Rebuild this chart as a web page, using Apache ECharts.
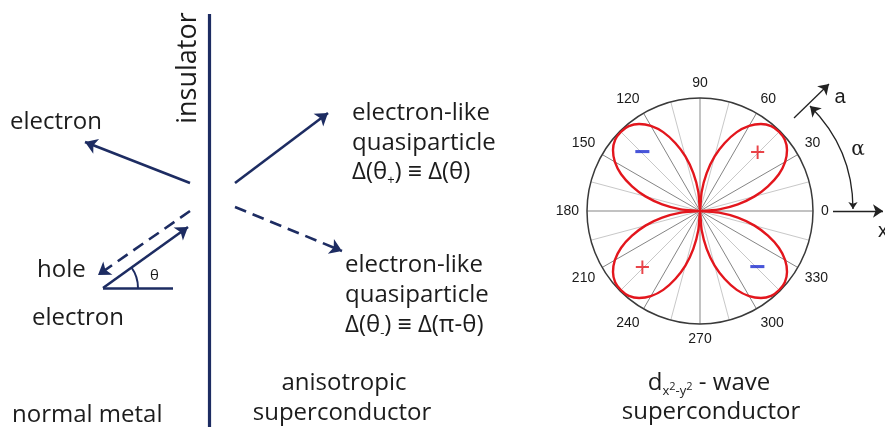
<!DOCTYPE html>
<html>
<head>
<meta charset="utf-8">
<script src="https://cdn.jsdelivr.net/npm/echarts@6/dist/echarts.min.js"></script>
<style>
  html, body { margin: 0; padding: 0; background: #ffffff; }
  #chart { width: 885px; height: 427px; }
</style>
</head>
<body>
<div id="chart"></div>
<script>
// Angle ticks of the polar panel, in degrees
const angleTicks = [0, 30, 60, 90, 120, 150, 180, 210, 240, 270, 300, 330];

// One d-wave lobe: |Δ| sampled every 5° from one node to the next
const lobeAngles = [0, 5, 10, 15, 20, 25, 30, 35, 40, 45, 50, 55, 60, 65, 70, 75, 80, 85, 90];
const lobeProfile = [0, 0.17, 0.34, 0.5, 0.64, 0.77, 0.87, 0.94, 0.98, 0.99, 0.98, 0.94, 0.87, 0.77, 0.64, 0.5, 0.34, 0.17, 0];

// Quadrant offsets of the four lobes and the sign of the gap in each one
const lobeOffsets = [0, 90, 180, 270];
const lobeSignAngles = [45, 135, 225, 315];
const lobeSigns = ['+', '−', '+', '−'];
const lobeSignRadius = 0.72;

// Trajectories at the junction (canvas units of the hidden x/y frame)
const insulatorLine = [[209, 14], [209, 427]];
const solidArrows = [
  [[190, 183], [85, 142]],    // normally reflected electron
  [[103, 288], [188, 227]],   // incident electron
  [[235, 183], [328, 113]]    // transmitted quasiparticle, θ+
];
const dashedArrows = [
  [[190, 211], [98, 275]],    // Andreev-reflected hole
  [[235, 207], [342, 251]]    // transmitted quasiparticle, θ-
];
const baseLine = [[103, 288], [173, 288]];
const thetaArc = [[138, 288], [131.5, 267.5]];

// Crystal axes next to the polar panel
const axisX = [[833, 211], [883, 211]];
const axisA = [[794, 118], [829, 84]];
const alphaArc = [[853, 209], [810, 106]];

const NAVY = '#1d2c62';
const TEXT = '#1c1c1c';
const FONT = '"Open Sans", sans-serif';

const lobeData = [];
lobeOffsets.forEach(function (off) {
  lobeProfile.forEach(function (r, i) {
    lobeData.push([r, off + lobeAngles[i]]);
  });
});

const signData = lobeSignAngles.map(function (a, i) {
  const plus = lobeSigns[i] === '+';
  return {
    value: [lobeSignRadius, a],
    label: {
      formatter: lobeSigns[i],
      color: plus ? '#e3161d' : '#1a2bd0',
      fontSize: plus ? 27 : 28,
      fontWeight: plus ? 'normal' : 'bold'
    }
  };
});

function seg(coords) { return { coords: coords }; }

const chart = echarts.init(document.getElementById('chart'), null, { renderer: 'canvas' });

function txt(text, x, y, opts) {
  opts = opts || {};
  return {
    type: 'text',
    x: x, y: y,
    rotation: opts.rotation || 0,
    silent: true,
    style: {
      text: text,
      fill: TEXT,
      font: (opts.size || 24) + 'px ' + (opts.family || FONT),
      align: opts.align || 'left',
      verticalAlign: 'middle',
      rich: opts.rich
    }
  };
}

const subRich = {
  m: { fontSize: 24, fontFamily: '"Open Sans", sans-serif', lineHeight: 30, verticalAlign: 'middle', fill: TEXT, color: TEXT },
  s: { fontSize: 13, fontFamily: '"Open Sans", sans-serif', lineHeight: 13, verticalAlign: 'bottom', fill: TEXT, color: TEXT },
  ss: { fontSize: 11, fontFamily: '"Open Sans", sans-serif', lineHeight: 11, verticalAlign: 'bottom', padding: [0, 0, 6, 0], fill: TEXT, color: TEXT }
};

chart.setOption({
  animation: false,
  backgroundColor: '#ffffff',
  grid: { left: 0, right: 0, top: 0, bottom: 0 },
  xAxis: { type: 'value', min: 0, max: 885, show: false },
  yAxis: { type: 'value', min: 0, max: 427, inverse: true, show: false },
  polar: { center: [700, 211], radius: 113 },
  angleAxis: {
    type: 'value', min: 0, max: 360, interval: 15,
    startAngle: 0, clockwise: false,
    axisLine: { lineStyle: { color: '#3a3a3a', width: 1.5 } },
    axisTick: { show: false },
    axisLabel: {
      margin: 8, color: '#1a1a1a', fontSize: 14, fontFamily: '"Liberation Sans", Arial, sans-serif',
      formatter: function (v) { return angleTicks.indexOf(v) >= 0 ? String(v) : ''; }
    },
    splitLine: { lineStyle: { color: ['#858585', '#c8c8c8'], width: 1 } }
  },
  radiusAxis: {
    type: 'value', min: 0, max: 1,
    axisLine: { show: false }, axisTick: { show: false },
    axisLabel: { show: false }, splitLine: { show: false }
  },
  series: [
    {
      type: 'line', coordinateSystem: 'polar', data: lobeData,
      showSymbol: false, symbol: 'none', smooth: 0.25, clip: false,
      lineStyle: { color: '#e3161d', width: 2.4 }, z: 3
    },
    {
      type: 'scatter', coordinateSystem: 'polar', data: signData,
      symbolSize: 0, z: 4,
      label: { show: true, position: 'inside', fontFamily: '"Liberation Sans", Arial, sans-serif' }
    },
    {
      type: 'lines', coordinateSystem: 'cartesian2d', silent: true,
      data: [seg(insulatorLine)], symbol: 'none',
      lineStyle: { color: NAVY, width: 3.2, opacity: 1 }
    },
    {
      type: 'lines', coordinateSystem: 'cartesian2d', silent: true,
      data: solidArrows.map(seg), symbol: ['none', 'arrow'], symbolSize: [10, 12],
      lineStyle: { color: NAVY, width: 2.6, opacity: 1 }
    },
    {
      type: 'lines', coordinateSystem: 'cartesian2d', silent: true,
      data: dashedArrows.map(seg), symbol: ['none', 'arrow'], symbolSize: [10, 12],
      lineStyle: { color: NAVY, width: 2.6, type: [12, 7], opacity: 1 }
    },
    {
      type: 'lines', coordinateSystem: 'cartesian2d', silent: true,
      data: [seg(baseLine)], symbol: 'none',
      lineStyle: { color: NAVY, width: 2.6, opacity: 1 }
    },
    {
      type: 'lines', coordinateSystem: 'cartesian2d', silent: true,
      data: [seg(thetaArc)], symbol: 'none',
      lineStyle: { color: NAVY, width: 2, curveness: -0.161, opacity: 1 }
    },
    {
      type: 'lines', coordinateSystem: 'cartesian2d', silent: true,
      data: [seg(axisX), seg(axisA)], symbol: ['none', 'arrow'], symbolSize: [7, 10],
      lineStyle: { color: '#222222', width: 1.3, opacity: 1 }
    },
    {
      type: 'lines', coordinateSystem: 'cartesian2d', silent: true,
      data: [seg(alphaArc)], symbol: ['arrow', 'arrow'], symbolSize: [7, 10],
      lineStyle: { color: '#222222', width: 1.3, curveness: -0.207, opacity: 1 }
    }
  ],
  graphic: [
    txt('insulator', 188, 68, { size: 27, rotation: Math.PI / 2, align: 'center' }),
    txt('electron', 10, 122),
    txt('hole', 37, 270),
    txt('electron', 32, 318),
    txt('normal metal', 12, 415),
    txt('θ', 150, 276, { size: 15 }),
    txt('electron-like', 352, 113),
    txt('quasiparticle', 352, 143),
    txt('{m|Δ(θ}{s|+}{m|) ≡ Δ(θ)}', 352, 172, { rich: subRich }),
    txt('electron-like', 345, 265),
    txt('quasiparticle', 345, 295),
    txt('{m|Δ(θ}{s|-}{m|) ≡ Δ(π-θ)}', 345, 325, { rich: subRich }),
    txt('anisotropic', 344, 383, { align: 'center' }),
    txt('superconductor', 342, 413, { align: 'center' }),
    txt('{m|d}{s|x}{ss|2}{s|-y}{ss|2}{m| - wave}', 709, 383, { align: 'center', rich: subRich }),
    txt('superconductor', 711, 412, { align: 'center' }),
    txt('a', 840, 97, { size: 20, family: '"Liberation Sans", Arial, sans-serif', align: 'center' }),
    txt('α', 858, 150, { size: 20, family: '"DejaVu Serif", serif', align: 'center' }),
    txt('x', 878, 231, { size: 20, family: '"Liberation Sans", Arial, sans-serif' })
  ]
});
</script>
</body>
</html>
